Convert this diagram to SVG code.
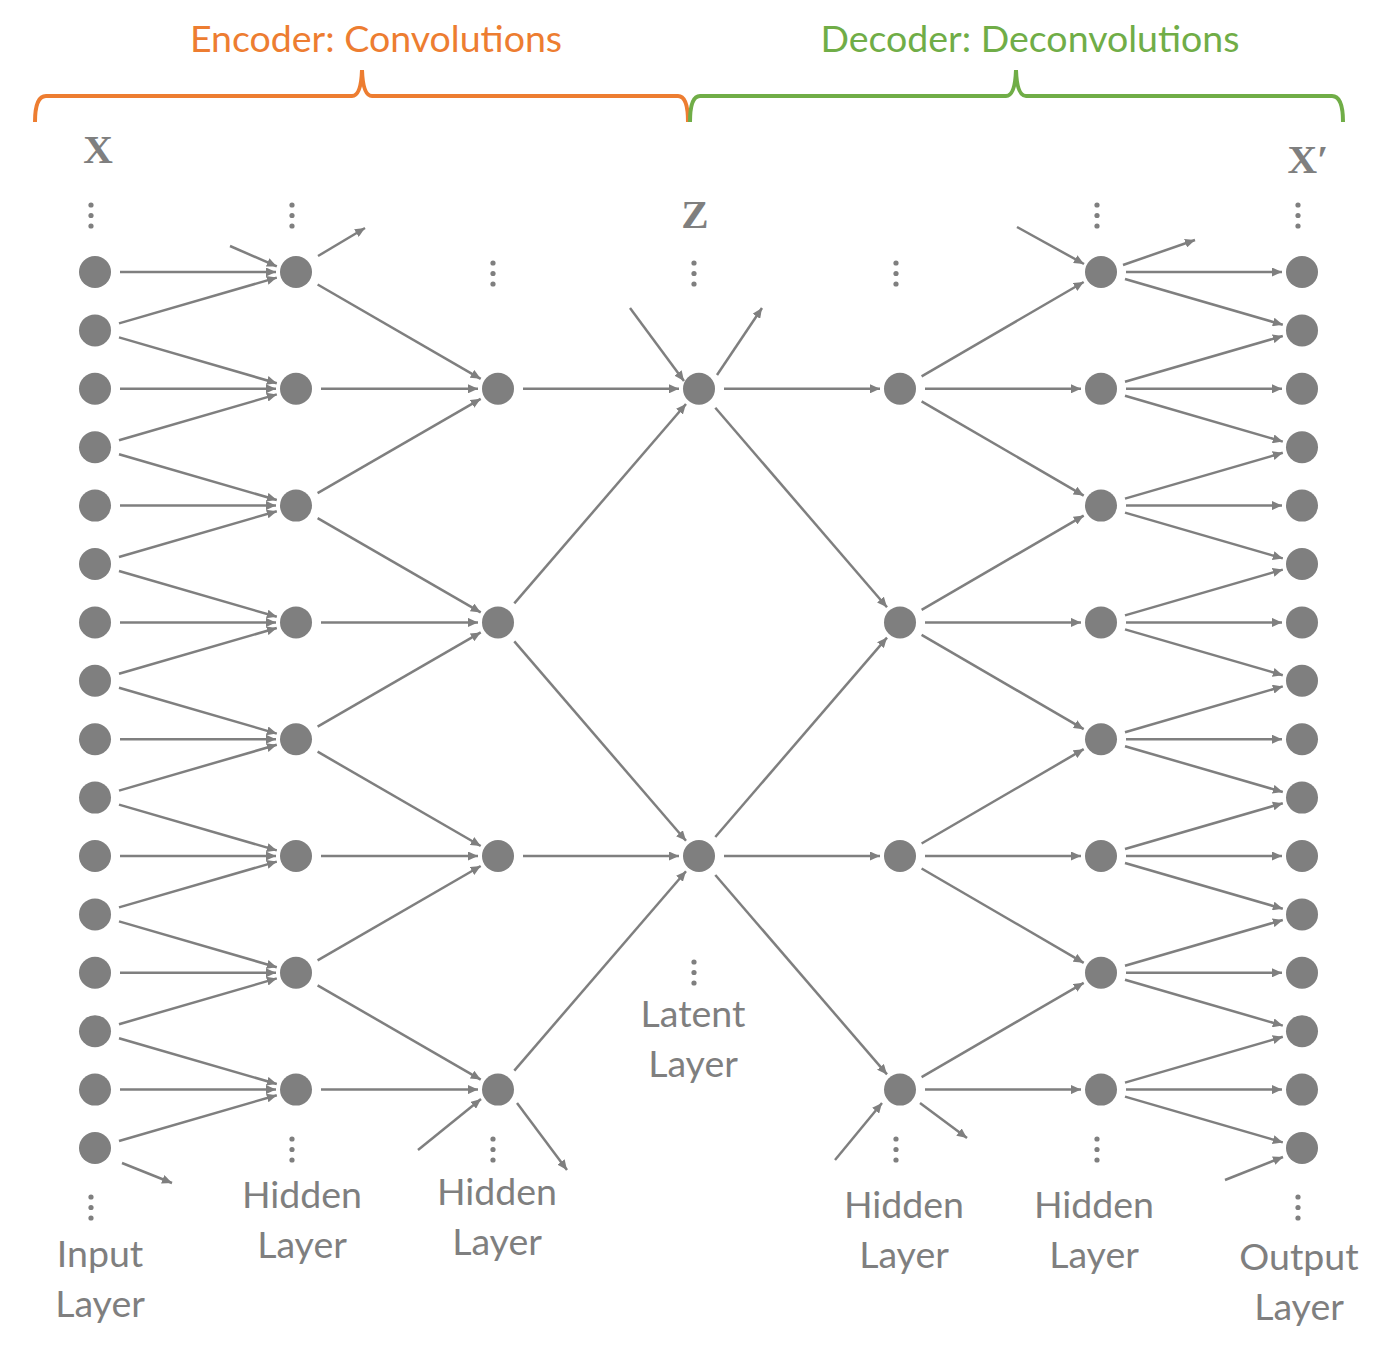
<svg xmlns="http://www.w3.org/2000/svg" width="1400" height="1357" viewBox="0 0 1400 1357">
<style>
.n{fill:#7f7f7f}
.d{fill:#7f7f7f}
.e line{stroke:#7f7f7f;stroke-width:2.5;marker-end:url(#ah)}
.lbl{font-family:Lato,"Open Sans",sans-serif;font-size:37.5px;fill:#7f7f7f;text-anchor:middle}
.var{font-family:"Liberation Serif",serif;font-weight:bold;font-size:41px;fill:#7f7f7f;text-anchor:middle}
.ttl{font-family:Lato,"Open Sans",sans-serif;font-size:37.5px;text-anchor:middle}
.br{fill:none;stroke-width:4}
</style>
<defs>
<marker id="ah" markerUnits="userSpaceOnUse" markerWidth="11" markerHeight="9" refX="10" refY="4.5" orient="auto">
<path d="M0,0 L10,4.5 L0,9 z" fill="#7f7f7f"/>
</marker>
</defs>
<rect width="1400" height="1357" fill="#fff"/>

<g id="encoder-brace">
<path class="br" stroke="#ED7D31" d="M35,122 Q35,96 46,96 L352,96 Q361,96 362,70 Q363,96 372,96 L678,96 Q688,96 688,122"/>
<text class="ttl" fill="#ED7D31" x="376" y="52">Encoder: Convolutions</text>
</g>
<g id="decoder-brace">
<path class="br" stroke="#70AD47" d="M690,122 Q690,96 700,96 L1006,96 Q1015,96 1016,70 Q1017,96 1026,96 L1332,96 Q1343,96 1343,122"/>
<text class="ttl" fill="#70AD47" x="1030" y="52">Decoder: Deconvolutions</text>
</g>

<g id="edges" class="e">
<!-- input -> hidden1 -->
<line x1="230" y1="246" x2="276.8" y2="266.4"/>
<line x1="120" y1="272" x2="276" y2="272"/>
<line x1="119" y1="323.4" x2="276.8" y2="277.6"/>
<line x1="119" y1="337.4" x2="276.8" y2="383.2"/>
<line x1="120" y1="388.8" x2="276" y2="388.8"/>
<line x1="119" y1="440.2" x2="276.8" y2="394.4"/>
<line x1="119" y1="454.2" x2="276.8" y2="500"/>
<line x1="120" y1="505.6" x2="276" y2="505.6"/>
<line x1="119" y1="557" x2="276.8" y2="511.2"/>
<line x1="119" y1="571" x2="276.8" y2="616.8"/>
<line x1="120" y1="622.4" x2="276" y2="622.4"/>
<line x1="119" y1="673.8" x2="276.8" y2="628"/>
<line x1="119" y1="687.8" x2="276.8" y2="733.6"/>
<line x1="120" y1="739.2" x2="276" y2="739.2"/>
<line x1="119" y1="790.6" x2="276.8" y2="744.8"/>
<line x1="119" y1="804.6" x2="276.8" y2="850.4"/>
<line x1="120" y1="856" x2="276" y2="856"/>
<line x1="119" y1="907.4" x2="276.8" y2="861.6"/>
<line x1="119" y1="921.4" x2="276.8" y2="967.2"/>
<line x1="120" y1="972.8" x2="276" y2="972.8"/>
<line x1="119" y1="1024.2" x2="276.8" y2="978.4"/>
<line x1="119" y1="1038.2" x2="276.8" y2="1084"/>
<line x1="120" y1="1089.6" x2="276" y2="1089.6"/>
<line x1="119" y1="1141" x2="276.8" y2="1095.2"/>
<line x1="122" y1="1163" x2="172" y2="1183"/>
<!-- hidden1 -> hidden2 -->
<line x1="318" y1="256" x2="365" y2="228"/>
<line x1="317.6" y1="284.5" x2="480.7" y2="378.8"/>
<line x1="321" y1="388.8" x2="478" y2="388.8"/>
<line x1="317.6" y1="493.1" x2="480.7" y2="398.8"/>
<line x1="317.6" y1="518.1" x2="480.7" y2="612.4"/>
<line x1="321" y1="622.4" x2="478" y2="622.4"/>
<line x1="317.6" y1="726.7" x2="480.7" y2="632.4"/>
<line x1="317.6" y1="751.7" x2="480.7" y2="846"/>
<line x1="321" y1="856" x2="478" y2="856"/>
<line x1="317.6" y1="960.3" x2="480.7" y2="866"/>
<line x1="317.6" y1="985.3" x2="480.7" y2="1079.6"/>
<line x1="321" y1="1089.6" x2="478" y2="1089.6"/>
<line x1="418" y1="1150" x2="481" y2="1099"/>
<line x1="517" y1="1103" x2="567" y2="1170"/>
<!-- hidden2 -> latent -->
<line x1="523" y1="388.8" x2="679" y2="388.8"/>
<line x1="514.3" y1="603.4" x2="686" y2="404"/>
<line x1="514.3" y1="641.4" x2="686" y2="840.8"/>
<line x1="523" y1="856" x2="679" y2="856"/>
<line x1="514.3" y1="1070.6" x2="686" y2="871.2"/>
<line x1="630" y1="308" x2="684" y2="381"/>
<line x1="717" y1="375" x2="762" y2="308"/>
<!-- latent -> hidden3 -->
<line x1="724" y1="388.8" x2="880" y2="388.8"/>
<line x1="715.3" y1="407.8" x2="887" y2="607.2"/>
<line x1="715.3" y1="837" x2="887" y2="637.6"/>
<line x1="724" y1="856" x2="880" y2="856"/>
<line x1="715.3" y1="875" x2="887" y2="1074.4"/>
<line x1="835" y1="1160" x2="882" y2="1103"/>
<line x1="920" y1="1103" x2="967" y2="1138"/>
<!-- hidden3 -> hidden4 -->
<line x1="921.6" y1="376.3" x2="1083.7" y2="282"/>
<line x1="925" y1="388.8" x2="1081" y2="388.8"/>
<line x1="921.6" y1="401.3" x2="1083.7" y2="495.6"/>
<line x1="921.6" y1="609.9" x2="1083.7" y2="515.6"/>
<line x1="925" y1="622.4" x2="1081" y2="622.4"/>
<line x1="921.6" y1="634.9" x2="1083.7" y2="729.2"/>
<line x1="921.6" y1="843.5" x2="1083.7" y2="749.2"/>
<line x1="925" y1="856" x2="1081" y2="856"/>
<line x1="921.6" y1="868.5" x2="1083.7" y2="962.8"/>
<line x1="921.6" y1="1077.1" x2="1083.7" y2="982.8"/>
<line x1="925" y1="1089.6" x2="1081" y2="1089.6"/>
<line x1="1017" y1="227" x2="1084" y2="264"/>
<!-- hidden4 -> output -->
<line x1="1123" y1="265" x2="1195" y2="240"/>
<line x1="1126" y1="272" x2="1282" y2="272"/>
<line x1="1125" y1="279" x2="1282.8" y2="324.8"/>
<line x1="1125" y1="381.8" x2="1282.8" y2="336"/>
<line x1="1126" y1="388.8" x2="1282" y2="388.8"/>
<line x1="1125" y1="395.8" x2="1282.8" y2="441.6"/>
<line x1="1125" y1="498.6" x2="1282.8" y2="452.8"/>
<line x1="1126" y1="505.6" x2="1282" y2="505.6"/>
<line x1="1125" y1="512.6" x2="1282.8" y2="558.4"/>
<line x1="1125" y1="615.4" x2="1282.8" y2="569.6"/>
<line x1="1126" y1="622.4" x2="1282" y2="622.4"/>
<line x1="1125" y1="629.4" x2="1282.8" y2="675.2"/>
<line x1="1125" y1="732.2" x2="1282.8" y2="686.4"/>
<line x1="1126" y1="739.2" x2="1282" y2="739.2"/>
<line x1="1125" y1="746.2" x2="1282.8" y2="792"/>
<line x1="1125" y1="849" x2="1282.8" y2="803.2"/>
<line x1="1126" y1="856" x2="1282" y2="856"/>
<line x1="1125" y1="863" x2="1282.8" y2="908.8"/>
<line x1="1125" y1="965.8" x2="1282.8" y2="920"/>
<line x1="1126" y1="972.8" x2="1282" y2="972.8"/>
<line x1="1125" y1="979.8" x2="1282.8" y2="1025.6"/>
<line x1="1125" y1="1082.6" x2="1282.8" y2="1036.8"/>
<line x1="1126" y1="1089.6" x2="1282" y2="1089.6"/>
<line x1="1125" y1="1096.6" x2="1282.8" y2="1142.4"/>
<line x1="1225" y1="1180" x2="1283" y2="1157"/>
</g>

<g id="input-layer">
<circle class="n" cx="95" cy="272" r="16"/><circle class="n" cx="95" cy="330.4" r="16"/><circle class="n" cx="95" cy="388.8" r="16"/><circle class="n" cx="95" cy="447.2" r="16"/>
<circle class="n" cx="95" cy="505.6" r="16"/><circle class="n" cx="95" cy="564" r="16"/><circle class="n" cx="95" cy="622.4" r="16"/><circle class="n" cx="95" cy="680.8" r="16"/>
<circle class="n" cx="95" cy="739.2" r="16"/><circle class="n" cx="95" cy="797.6" r="16"/><circle class="n" cx="95" cy="856" r="16"/><circle class="n" cx="95" cy="914.4" r="16"/>
<circle class="n" cx="95" cy="972.8" r="16"/><circle class="n" cx="95" cy="1031.2" r="16"/><circle class="n" cx="95" cy="1089.6" r="16"/><circle class="n" cx="95" cy="1148" r="16"/>
<circle class="d" cx="91" cy="205" r="2.6"/><circle class="d" cx="91" cy="215.5" r="2.6"/><circle class="d" cx="91" cy="226" r="2.6"/>
<circle class="d" cx="91" cy="1197" r="2.6"/><circle class="d" cx="91" cy="1207.5" r="2.6"/><circle class="d" cx="91" cy="1218" r="2.6"/>
<text class="var" x="98" y="163">X</text>
<text class="lbl" x="100" y="1267">Input</text>
<text class="lbl" x="100" y="1317">Layer</text>
</g>

<g id="hidden-layer-1">
<circle class="n" cx="296" cy="272" r="16"/><circle class="n" cx="296" cy="388.8" r="16"/><circle class="n" cx="296" cy="505.6" r="16"/><circle class="n" cx="296" cy="622.4" r="16"/>
<circle class="n" cx="296" cy="739.2" r="16"/><circle class="n" cx="296" cy="856" r="16"/><circle class="n" cx="296" cy="972.8" r="16"/><circle class="n" cx="296" cy="1089.6" r="16"/>
<circle class="d" cx="292" cy="205" r="2.6"/><circle class="d" cx="292" cy="215.5" r="2.6"/><circle class="d" cx="292" cy="226" r="2.6"/>
<circle class="d" cx="292" cy="1139" r="2.6"/><circle class="d" cx="292" cy="1149.5" r="2.6"/><circle class="d" cx="292" cy="1160" r="2.6"/>
<text class="lbl" x="302" y="1208">Hidden</text>
<text class="lbl" x="302" y="1258">Layer</text>
</g>

<g id="hidden-layer-2">
<circle class="n" cx="498" cy="388.8" r="16"/><circle class="n" cx="498" cy="622.4" r="16"/><circle class="n" cx="498" cy="856" r="16"/><circle class="n" cx="498" cy="1089.6" r="16"/>
<circle class="d" cx="493" cy="263" r="2.6"/><circle class="d" cx="493" cy="273.5" r="2.6"/><circle class="d" cx="493" cy="284" r="2.6"/>
<circle class="d" cx="493" cy="1139" r="2.6"/><circle class="d" cx="493" cy="1149.5" r="2.6"/><circle class="d" cx="493" cy="1160" r="2.6"/>
<text class="lbl" x="497" y="1205">Hidden</text>
<text class="lbl" x="497" y="1255">Layer</text>
</g>

<g id="latent-layer">
<circle class="n" cx="699" cy="388.8" r="16"/><circle class="n" cx="699" cy="856" r="16"/>
<circle class="d" cx="694" cy="263" r="2.6"/><circle class="d" cx="694" cy="273.5" r="2.6"/><circle class="d" cx="694" cy="284" r="2.6"/>
<circle class="d" cx="694" cy="962" r="2.6"/><circle class="d" cx="694" cy="972.5" r="2.6"/><circle class="d" cx="694" cy="983" r="2.6"/>
<text class="var" x="695" y="228">Z</text>
<text class="lbl" x="693" y="1027">Latent</text>
<text class="lbl" x="693" y="1077">Layer</text>
</g>

<g id="hidden-layer-3">
<circle class="n" cx="900" cy="388.8" r="16"/><circle class="n" cx="900" cy="622.4" r="16"/><circle class="n" cx="900" cy="856" r="16"/><circle class="n" cx="900" cy="1089.6" r="16"/>
<circle class="d" cx="896" cy="263" r="2.6"/><circle class="d" cx="896" cy="273.5" r="2.6"/><circle class="d" cx="896" cy="284" r="2.6"/>
<circle class="d" cx="896" cy="1139" r="2.6"/><circle class="d" cx="896" cy="1149.5" r="2.6"/><circle class="d" cx="896" cy="1160" r="2.6"/>
<text class="lbl" x="904" y="1218">Hidden</text>
<text class="lbl" x="904" y="1268">Layer</text>
</g>

<g id="hidden-layer-4">
<circle class="n" cx="1101" cy="272" r="16"/><circle class="n" cx="1101" cy="388.8" r="16"/><circle class="n" cx="1101" cy="505.6" r="16"/><circle class="n" cx="1101" cy="622.4" r="16"/>
<circle class="n" cx="1101" cy="739.2" r="16"/><circle class="n" cx="1101" cy="856" r="16"/><circle class="n" cx="1101" cy="972.8" r="16"/><circle class="n" cx="1101" cy="1089.6" r="16"/>
<circle class="d" cx="1097" cy="205" r="2.6"/><circle class="d" cx="1097" cy="215.5" r="2.6"/><circle class="d" cx="1097" cy="226" r="2.6"/>
<circle class="d" cx="1097" cy="1139" r="2.6"/><circle class="d" cx="1097" cy="1149.5" r="2.6"/><circle class="d" cx="1097" cy="1160" r="2.6"/>
<text class="lbl" x="1094" y="1218">Hidden</text>
<text class="lbl" x="1094" y="1268">Layer</text>
</g>

<g id="output-layer">
<circle class="n" cx="1302" cy="272" r="16"/><circle class="n" cx="1302" cy="330.4" r="16"/><circle class="n" cx="1302" cy="388.8" r="16"/><circle class="n" cx="1302" cy="447.2" r="16"/>
<circle class="n" cx="1302" cy="505.6" r="16"/><circle class="n" cx="1302" cy="564" r="16"/><circle class="n" cx="1302" cy="622.4" r="16"/><circle class="n" cx="1302" cy="680.8" r="16"/>
<circle class="n" cx="1302" cy="739.2" r="16"/><circle class="n" cx="1302" cy="797.6" r="16"/><circle class="n" cx="1302" cy="856" r="16"/><circle class="n" cx="1302" cy="914.4" r="16"/>
<circle class="n" cx="1302" cy="972.8" r="16"/><circle class="n" cx="1302" cy="1031.2" r="16"/><circle class="n" cx="1302" cy="1089.6" r="16"/><circle class="n" cx="1302" cy="1148" r="16"/>
<circle class="d" cx="1298" cy="205" r="2.6"/><circle class="d" cx="1298" cy="215.5" r="2.6"/><circle class="d" cx="1298" cy="226" r="2.6"/>
<circle class="d" cx="1298" cy="1197" r="2.6"/><circle class="d" cx="1298" cy="1207.5" r="2.6"/><circle class="d" cx="1298" cy="1218" r="2.6"/>
<text class="var" x="1308" y="173">X′</text>
<text class="lbl" x="1299" y="1270">Output</text>
<text class="lbl" x="1299" y="1320">Layer</text>
</g>
</svg>
